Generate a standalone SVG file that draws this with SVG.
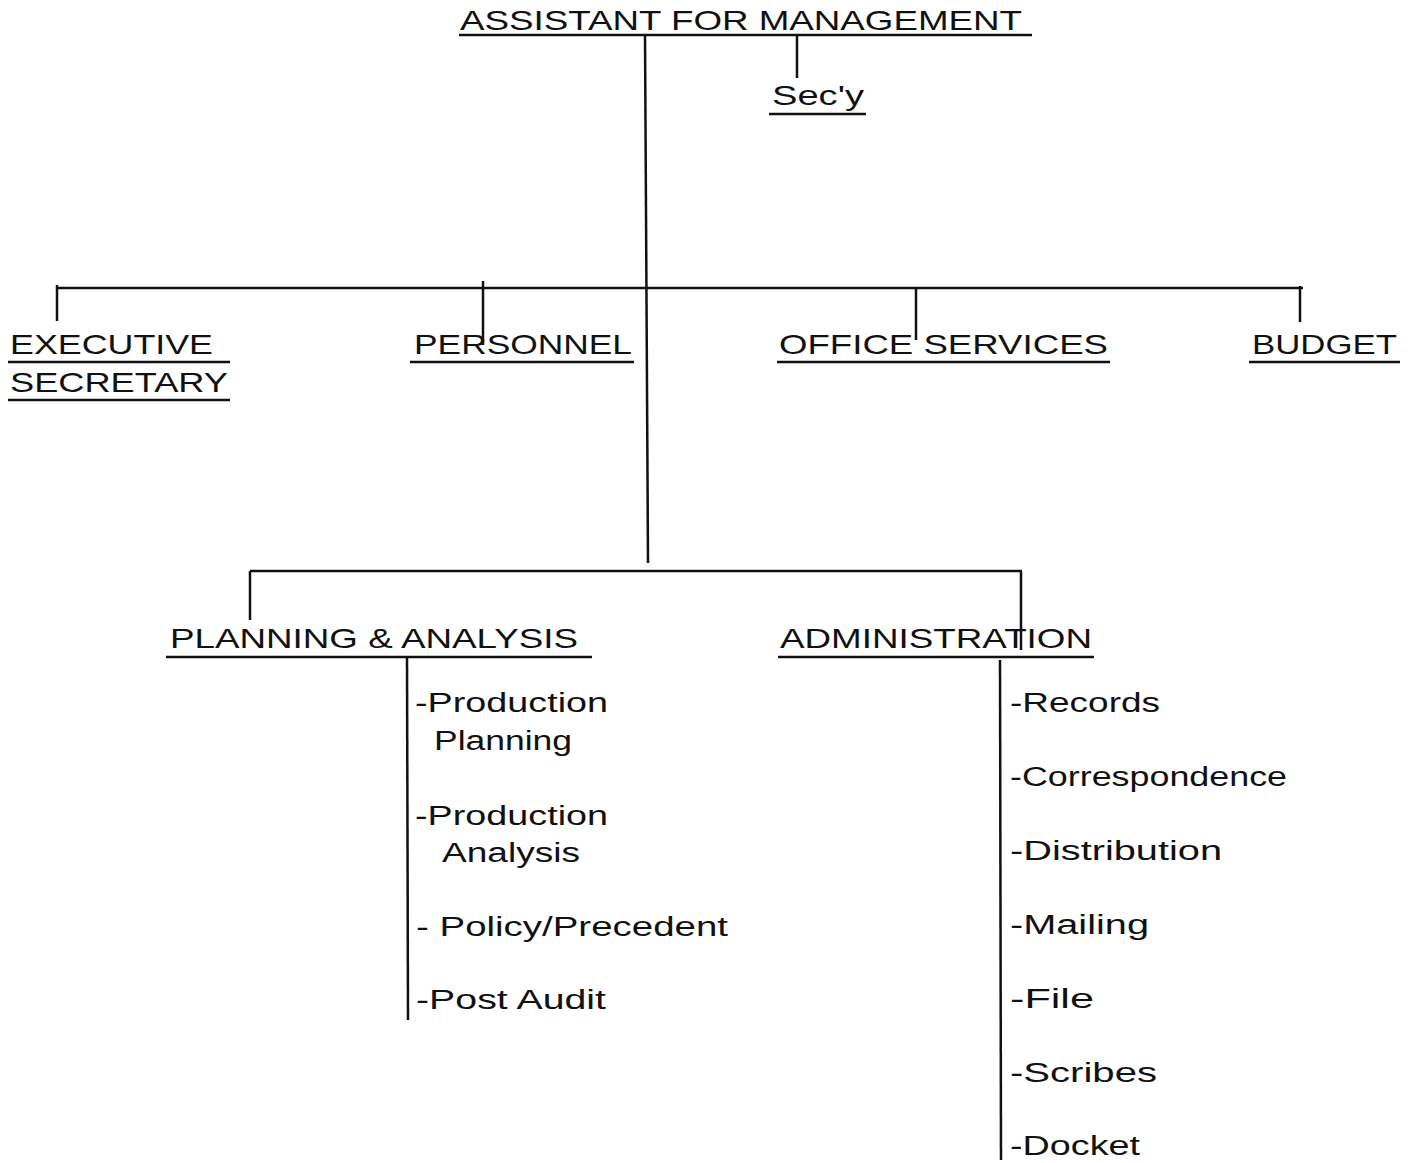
<svg xmlns="http://www.w3.org/2000/svg" width="1415" height="1163" viewBox="0 0 1415 1163">
<style>
.t{font-family:"Liberation Sans","DejaVu Sans",sans-serif;font-size:28px;fill:#111;}
.s{font-family:"Liberation Sans","DejaVu Sans",sans-serif;font-size:27px;fill:#111;}
.ln{stroke:#111;stroke-width:2.5;fill:none;}
.ul{stroke:#111;stroke-width:2.5;fill:none;}
</style>
<rect width="1415" height="1163" fill="#fff"/>
<g id="connectors" class="ln">
<line x1="645" y1="35" x2="648" y2="563"/>
<line x1="797" y1="35" x2="797" y2="78"/>
<line x1="57" y1="288" x2="1303" y2="288"/>
<line x1="57" y1="285" x2="57" y2="321"/>
<line x1="483" y1="281" x2="483" y2="345"/>
<line x1="916" y1="288" x2="916" y2="340"/>
<line x1="1300" y1="286" x2="1300" y2="322"/>
<line x1="250" y1="571" x2="1022" y2="571"/>
<line x1="250" y1="571" x2="250" y2="620"/>
<line x1="1021" y1="571" x2="1021" y2="650"/>
<line x1="407" y1="657" x2="408" y2="1020"/>
<line x1="1000" y1="660" x2="1001" y2="1160"/>
</g>
<g id="assistant">
<text class="t" x="460" y="30" textLength="562" lengthAdjust="spacingAndGlyphs">ASSISTANT FOR MANAGEMENT</text>
<line class="ul" x1="459" y1="35" x2="1032" y2="35"/>
</g>
<g id="secy">
<text class="t" x="772" y="105" textLength="92" lengthAdjust="spacingAndGlyphs">Sec'y</text>
<line class="ul" x1="769" y1="114" x2="866" y2="114"/>
</g>
<g id="executive-secretary">
<text class="t" x="10" y="354" textLength="203" lengthAdjust="spacingAndGlyphs">EXECUTIVE</text>
<line class="ul" x1="8" y1="362" x2="230" y2="362"/>
<text class="t" x="10" y="392" textLength="218" lengthAdjust="spacingAndGlyphs">SECRETARY</text>
<line class="ul" x1="8" y1="400" x2="230" y2="400"/>
</g>
<g id="personnel">
<text class="t" x="414" y="354" textLength="218" lengthAdjust="spacingAndGlyphs">PERSONNEL</text>
<line class="ul" x1="410" y1="362" x2="634" y2="362"/>
</g>
<g id="office-services">
<text class="t" x="779" y="354" textLength="329" lengthAdjust="spacingAndGlyphs">OFFICE SERVICES</text>
<line class="ul" x1="777" y1="362" x2="1110" y2="362"/>
</g>
<g id="budget">
<text class="t" x="1252" y="354" textLength="145" lengthAdjust="spacingAndGlyphs">BUDGET</text>
<line class="ul" x1="1249" y1="362" x2="1400" y2="362"/>
</g>
<g id="planning-analysis">
<text class="t" x="170" y="648" textLength="408" lengthAdjust="spacingAndGlyphs">PLANNING &amp; ANALYSIS</text>
<line class="ul" x1="166" y1="657" x2="592" y2="657"/>
<text class="s" x="415" y="712" textLength="193" lengthAdjust="spacingAndGlyphs">-Production</text>
<text class="s" x="434" y="750" textLength="138" lengthAdjust="spacingAndGlyphs">Planning</text>
<text class="s" x="415" y="825" textLength="193" lengthAdjust="spacingAndGlyphs">-Production</text>
<text class="s" x="442" y="862" textLength="138" lengthAdjust="spacingAndGlyphs">Analysis</text>
<text class="s" x="416" y="936" textLength="312" lengthAdjust="spacingAndGlyphs">- Policy/Precedent</text>
<text class="s" x="416" y="1009" textLength="190" lengthAdjust="spacingAndGlyphs">-Post Audit</text>
</g>
<g id="administration">
<text class="t" x="780" y="648" textLength="312" lengthAdjust="spacingAndGlyphs">ADMINISTRATION</text>
<line class="ul" x1="778" y1="657" x2="1094" y2="657"/>
<text class="s" x="1010" y="712" textLength="150" lengthAdjust="spacingAndGlyphs">-Records</text>
<text class="s" x="1010" y="786" textLength="277" lengthAdjust="spacingAndGlyphs">-Correspondence</text>
<text class="s" x="1010" y="860" textLength="212" lengthAdjust="spacingAndGlyphs">-Distribution</text>
<text class="s" x="1010" y="934" textLength="139" lengthAdjust="spacingAndGlyphs">-Mailing</text>
<text class="s" x="1010" y="1008" textLength="84" lengthAdjust="spacingAndGlyphs">-File</text>
<text class="s" x="1010" y="1082" textLength="147" lengthAdjust="spacingAndGlyphs">-Scribes</text>
<text class="s" x="1010" y="1155" textLength="130" lengthAdjust="spacingAndGlyphs">-Docket</text>
</g>
</svg>
